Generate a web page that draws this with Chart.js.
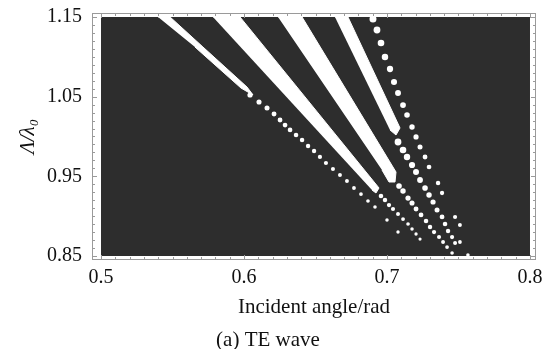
<!DOCTYPE html>
<html><head><meta charset="utf-8">
<script src="https://cdn.jsdelivr.net/npm/chart.js@4"></script>
<style>html,body{margin:0;padding:0;background:#fff}canvas{display:block}</style>
</head><body>
<canvas id="c" width="554" height="349"></canvas>
<script>
// ---- data ----
const xRange = [0.5, 0.8];
const yRange = [0.85, 1.15];
const xTickLabels = [0.5, 0.6, 0.7, 0.8];
const yTickLabels = [0.85, 0.95, 1.05, 1.15];

// solid white regions (polygon vertices: incident angle, Λ/λ0)
const bandA = [[0.5399,1.15],[0.5483,1.15],[0.5713,1.1123],[0.6021,1.0621],[0.6063,1.0521],[0.5979,1.0608],[0.5657,1.1123]];
const bandB = [[0.5783,1.15],[0.5972,1.15],[0.6944,0.9354],[0.6923,0.9291],[0.6895,0.9328]];
const bandC = [[0.6238,1.15],[0.6406,1.15],[0.7063,0.9554],[0.7056,0.9429],[0.7014,0.9429],[0.6965,0.9579]];
const bandD = [[0.6636,1.15],[0.6727,1.15],[0.7091,1.0107],[0.7063,1.0019],[0.7021,1.0082]];

// isolated white dots
const dotsA = [[0.6042,1.0521],[0.6105,1.0433],[0.6161,1.0358],[0.6210,1.0282],[0.6252,1.0207],[0.6287,1.0144],[0.6322,1.0082],[0.6364,1.0019],[0.6406,0.9956],[0.6448,0.9881],[0.6490,0.9818],[0.6531,0.9743],[0.6573,0.9667],[0.6622,0.9592],[0.6671,0.9517],[0.6720,0.9441],[0.6769,0.9354],[0.6818,0.9278],[0.6867,0.9190],[0.6916,0.9115],[0.7000,0.8952],[0.7077,0.8801]];
const dotsB = [[0.6958,0.9253],[0.6986,0.9203],[0.7014,0.9140],[0.7042,0.9090],[0.7077,0.9027],[0.7112,0.8964],[0.7147,0.8902],[0.7175,0.8839],[0.7203,0.8776],[0.7231,0.8713]];
const dotsC = [[0.7084,0.9379],[0.7112,0.9316],[0.7147,0.9228],[0.7175,0.9165],[0.7203,0.9090],[0.7238,0.9015],[0.7273,0.8939],[0.7301,0.8864],[0.7329,0.8801],[0.7364,0.8738],[0.7392,0.8676],[0.7420,0.8613],[0.7455,0.8538]];
const dotsD = [[0.7077,0.9931],[0.7112,0.9831],[0.7140,0.9743],[0.7175,0.9642],[0.7203,0.9554],[0.7231,0.9454],[0.7266,0.9354],[0.7294,0.9266],[0.7322,0.9178],[0.7350,0.9077],[0.7385,0.8990],[0.7406,0.8902],[0.7427,0.8814],[0.7455,0.8738],[0.7476,0.8663]];
const dotsE = [[0.6902,1.1475],[0.6930,1.1337],[0.6958,1.1174],[0.6986,1.0998],[0.7021,1.0847],[0.7049,1.0684],[0.7077,1.0546],[0.7112,1.0395],[0.7140,1.0270],[0.7175,1.0119],[0.7203,0.9994],[0.7231,0.9868],[0.7266,0.9743],[0.7294,0.9617],[0.7357,0.9416],[0.7385,0.9291],[0.7476,0.8990],[0.7510,0.8889],[0.7510,0.8676],[0.7566,0.8513]];

// ---- styling / layout ----
const xPad = [0.0063, 0.0042];
const yPad = [0.005, 0.005];
const DARK = '#2d2d2d';
const FONT = "'Liberation Serif', 'Times New Roman', serif";

const pts = a => a.map(([x, y]) => ({x, y}));
const darkRect = [[xRange[0], yRange[0]], [xRange[1], yRange[0]], [xRange[1], yRange[1]], [xRange[0], yRange[1]]];

function poly(data) {
  return {type: 'line', data: pts(data), showLine: true, fill: 'shape', tension: 0,
    backgroundColor: '#ffffff', borderColor: '#ffffff', borderWidth: 1, pointRadius: 0, order: 1};
}
function dots(data, r0, r1) {
  const n = data.length;
  return {type: 'scatter', data: pts(data), showLine: false,
    pointRadius: c => r0 + (r1 - r0) * c.dataIndex / (n - 1),
    pointBackgroundColor: '#ffffff', pointBorderWidth: 0, pointBorderColor: '#ffffff', order: 0};
}
function noPad(s) { s.paddingLeft = 0; s.paddingRight = 0; s.paddingTop = 0; s.paddingBottom = 0; }

const framePlugin = {
  id: 'frame',
  afterDatasetsDraw(chart) {
    const {ctx, chartArea: a, scales: {x, y}} = chart;
    ctx.save();
    ctx.strokeStyle = '#9a9a9a';
    ctx.lineWidth = 1;
    ctx.strokeRect(a.left + 0.5, a.top + 0.5, a.right - a.left - 1, a.bottom - a.top - 1);
    ctx.beginPath();
    for (let i = 0; i <= 30; i++) {
      const px = Math.round(x.getPixelForValue(xRange[0] + i * 0.01)) + 0.5;
      const len = i % 10 === 0 ? 5 : 3;
      ctx.moveTo(px, a.bottom); ctx.lineTo(px, a.bottom - len);
      ctx.moveTo(px, a.top); ctx.lineTo(px, a.top + len);
      const py = Math.round(y.getPixelForValue(yRange[0] + i * 0.01)) + 0.5;
      ctx.moveTo(a.left, py); ctx.lineTo(a.left + len, py);
      ctx.moveTo(a.right, py); ctx.lineTo(a.right - len, py);
    }
    ctx.stroke();
    ctx.restore();
  }
};

new Chart(document.getElementById('c'), {
  type: 'scatter',
  data: {
    datasets: [
      dots(dotsA, 2.6, 1.7),
      dots(dotsB, 2.3, 1.6),
      dots(dotsC, 2.8, 1.8),
      dots(dotsD, 3.4, 2.0),
      dots(dotsE, 3.5, 1.8),
      poly(bandA), poly(bandB), poly(bandC), poly(bandD),
      {type: 'line', data: pts(darkRect), showLine: true, fill: 'shape', tension: 0,
        backgroundColor: DARK, borderColor: DARK, borderWidth: 0, pointRadius: 0, order: 5}
    ]
  },
  options: {
    responsive: false,
    animation: false,
    devicePixelRatio: 1,
    layout: {padding: {top: 13, right: 18, bottom: -2, left: 0}},
    plugins: {
      legend: {display: false},
      tooltip: {enabled: false},
      title: {display: true, position: 'bottom', text: '(a) TE wave', color: '#111',
        font: {family: FONT, size: 21, weight: 'normal', lineHeight: 1}, padding: {top: 0, bottom: 0}}
    },
    scales: {
      x: {
        type: 'linear', position: 'bottom',
        min: xRange[0] - xPad[0], max: xRange[1] + xPad[1],
        grid: {display: false, drawTicks: false}, border: {display: false},
        afterBuildTicks: s => { s.ticks = xTickLabels.map(v => ({value: v})); },
        afterFit: s => { s.height = 70; noPad(s); },
        ticks: {color: '#111', padding: 6, maxRotation: 0, autoSkip: false,
          font: {family: FONT, size: 20}, callback: v => v.toFixed(1)},
        title: {display: true, text: 'Incident angle/rad', color: '#111',
          font: {family: FONT, size: 21, lineHeight: 1.2}, padding: {top: 0, bottom: 10.4}}
      },
      y: {
        type: 'linear', position: 'left',
        min: yRange[0] - yPad[0], max: yRange[1] + yPad[1],
        grid: {display: false, drawTicks: false}, border: {display: false},
        afterBuildTicks: s => { s.ticks = yTickLabels.map(v => ({value: v})); },
        afterFit: s => { s.width = 92; noPad(s); },
        ticks: {color: '#111', padding: 10, autoSkip: false,
          font: {family: FONT, size: 20}, callback: v => v.toFixed(2)},
        title: {display: true, text: 'Λ/λ₀', color: '#111',
          font: {family: FONT, size: 21, style: 'italic', lineHeight: 1.2}, padding: {top: 16, bottom: 0}}
      }
    }
  },
  plugins: [framePlugin]
});
</script>
</body></html>
